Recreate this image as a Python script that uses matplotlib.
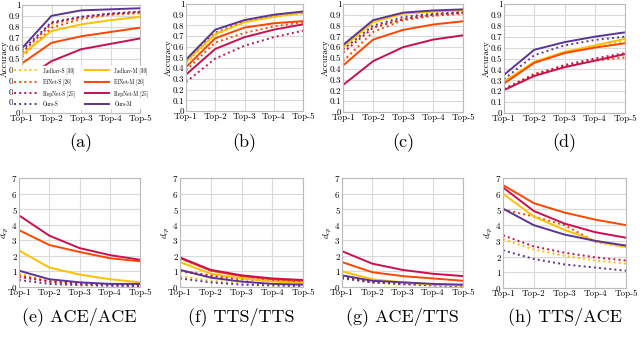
import matplotlib
matplotlib.use("Agg")
import matplotlib.pyplot as plt

plt.rcParams['font.family'] = 'serif'
plt.rcParams['font.serif'] = ['cmr10', 'DejaVu Serif']
plt.rcParams['mathtext.fontset'] = 'cm'
plt.rcParams['axes.formatter.use_mathtext'] = True
plt.rcParams['axes.unicode_minus'] = False

categories = ["Top-1", "Top-2", "Top-3", "Top-4", "Top-5"]
methods = ["Jadhav-S [30]", "EfNet-S [26]", "RepNet-S [25]", "Ours-S",
           "Jadhav-M [30]", "EfNet-M [26]", "RepNet-M [25]", "Ours-M"]
colors = {"Jadhav": "#FFC000", "EfNet": "#FF4500", "RepNet": "#C8104F", "Ours": "#5B3593"}

# accuracy panels
acc_a = {
    "Jadhav-S [30]": [0.55, 0.82, 0.88, 0.91, 0.92],
    "EfNet-S [26]": [0.52, 0.79, 0.87, 0.91, 0.93],
    "RepNet-S [25]": [0.56, 0.83, 0.89, 0.92, 0.935],
    "Ours-S": [0.58, 0.84, 0.89, 0.92, 0.94],
    "Jadhav-M [30]": [0.54, 0.76, 0.82, 0.86, 0.89],
    "EfNet-M [26]": [0.46, 0.65, 0.71, 0.75, 0.79],
    "RepNet-M [25]": [0.30, 0.48, 0.59, 0.64, 0.69],
    "Ours-M": [0.60, 0.90, 0.95, 0.96, 0.97],
}
acc_b = {
    "Jadhav-S [30]": [0.45, 0.71, 0.83, 0.88, 0.91],
    "EfNet-S [26]": [0.38, 0.64, 0.73, 0.79, 0.83],
    "RepNet-S [25]": [0.27, 0.49, 0.61, 0.69, 0.75],
    "Ours-S": [0.47, 0.73, 0.84, 0.89, 0.92],
    "Jadhav-M [30]": [0.46, 0.72, 0.83, 0.88, 0.92],
    "EfNet-M [26]": [0.41, 0.68, 0.78, 0.82, 0.84],
    "RepNet-M [25]": [0.34, 0.58, 0.69, 0.76, 0.81],
    "Ours-M": [0.48, 0.76, 0.85, 0.90, 0.93],
}
acc_c = {
    "Jadhav-S [30]": [0.57, 0.79, 0.86, 0.90, 0.92],
    "EfNet-S [26]": [0.47, 0.74, 0.85, 0.89, 0.91],
    "RepNet-S [25]": [0.55, 0.78, 0.86, 0.90, 0.92],
    "Ours-S": [0.58, 0.80, 0.88, 0.91, 0.93],
    "Jadhav-M [30]": [0.60, 0.83, 0.91, 0.93, 0.94],
    "EfNet-M [26]": [0.43, 0.67, 0.76, 0.81, 0.84],
    "RepNet-M [25]": [0.25, 0.47, 0.60, 0.67, 0.71],
    "Ours-M": [0.62, 0.85, 0.92, 0.94, 0.95],
}
acc_d = {
    "Jadhav-S [30]": [0.28, 0.46, 0.55, 0.61, 0.66],
    "EfNet-S [26]": [0.22, 0.36, 0.43, 0.48, 0.51],
    "RepNet-S [25]": [0.22, 0.35, 0.44, 0.50, 0.55],
    "Ours-S": [0.31, 0.53, 0.62, 0.67, 0.70],
    "Jadhav-M [30]": [0.29, 0.47, 0.56, 0.62, 0.68],
    "EfNet-M [26]": [0.27, 0.46, 0.55, 0.60, 0.64],
    "RepNet-M [25]": [0.21, 0.34, 0.42, 0.48, 0.54],
    "Ours-M": [0.35, 0.58, 0.65, 0.70, 0.74],
}
# d_cp panels
dcp_e = {
    "Jadhav-S [30]": [0.85, 0.40, 0.25, 0.15, 0.10],
    "EfNet-S [26]": [0.75, 0.35, 0.22, 0.15, 0.12],
    "RepNet-S [25]": [0.65, 0.35, 0.20, 0.15, 0.10],
    "Ours-S": [0.45, 0.20, 0.12, 0.08, 0.05],
    "Jadhav-M [30]": [2.35, 1.25, 0.80, 0.50, 0.30],
    "EfNet-M [26]": [3.65, 2.70, 2.25, 1.85, 1.65],
    "RepNet-M [25]": [4.60, 3.30, 2.50, 2.05, 1.75],
    "Ours-M": [1.05, 0.50, 0.30, 0.20, 0.20],
}
dcp_f = {
    "Jadhav-S [30]": [0.70, 0.40, 0.25, 0.15, 0.10],
    "EfNet-S [26]": [1.00, 0.75, 0.55, 0.40, 0.30],
    "RepNet-S [25]": [1.05, 0.70, 0.50, 0.40, 0.30],
    "Ours-S": [0.55, 0.30, 0.15, 0.10, 0.05],
    "Jadhav-M [30]": [1.60, 0.85, 0.55, 0.35, 0.25],
    "EfNet-M [26]": [1.85, 1.05, 0.70, 0.50, 0.40],
    "RepNet-M [25]": [1.90, 1.10, 0.75, 0.55, 0.45],
    "Ours-M": [1.10, 0.60, 0.35, 0.20, 0.15],
}
dcp_g = {
    "Jadhav-S [30]": [0.60, 0.30, 0.15, 0.10, 0.05],
    "EfNet-S [26]": [0.60, 0.30, 0.20, 0.15, 0.10],
    "RepNet-S [25]": [0.65, 0.35, 0.25, 0.15, 0.10],
    "Ours-S": [0.55, 0.30, 0.20, 0.10, 0.05],
    "Jadhav-M [30]": [1.00, 0.50, 0.30, 0.15, 0.10],
    "EfNet-M [26]": [1.60, 0.95, 0.70, 0.55, 0.40],
    "RepNet-M [25]": [2.30, 1.50, 1.10, 0.85, 0.70],
    "Ours-M": [0.75, 0.40, 0.30, 0.20, 0.15],
}
dcp_h = {
    "Jadhav-S [30]": [3.10, 2.45, 2.05, 1.75, 1.55],
    "EfNet-S [26]": [5.00, 4.55, 4.00, 2.95, 2.60],
    "RepNet-S [25]": [3.35, 2.65, 2.25, 1.95, 1.75],
    "Ours-S": [2.40, 1.85, 1.50, 1.30, 1.10],
    "Jadhav-M [30]": [6.00, 4.55, 3.70, 3.00, 2.60],
    "EfNet-M [26]": [6.55, 5.40, 4.80, 4.35, 4.00],
    "RepNet-M [25]": [6.40, 4.90, 4.10, 3.55, 3.20],
    "Ours-M": [5.05, 4.00, 3.40, 3.00, 2.70],
}
captions_top = ["(a)", "(b)", "(c)", "(d)"]
captions_bot = ["(e) ACE/ACE", "(f) TTS/TTS", "(g) ACE/TTS", "(h) TTS/ACE"]

W, H = 640, 349
fig = plt.figure(figsize=(W / 100, H / 100), dpi=100)

def ax_px(x0, y0, x1, y1):
    return fig.add_axes([x0 / W, 1 - y1 / H, (x1 - x0) / W, (y1 - y0) / H])

top_boxes = [(22, 5, 140, 113), (186, 4, 303, 111), (343, 4, 463, 112), (504, 4, 625, 113)]
bot_boxes = [(19, 178, 140, 287), (180, 178, 303, 287), (342, 178, 463, 287), (503, 178, 626, 288)]

def style(ax, ylim, yticks, ylabel, box, label_x):
    ax.set_xlim(0, 4)
    ax.set_ylim(*ylim)
    ax.set_xticks(range(5))
    ax.set_xticklabels(categories, fontsize=6.5)
    ax.set_yticks(yticks)
    ax.tick_params(axis='y', labelsize=6.5, length=0, pad=1)
    ax.tick_params(axis='x', length=0, pad=1)
    ax.grid(True, color='#d9d9d9', linewidth=0.8)
    ax.set_axisbelow(True)
    for s in ax.spines.values():
        s.set_color('#bbbbbb')
        s.set_linewidth(0.8)
    ax.set_ylabel(ylabel, fontsize=6.5)
    w = box[2] - box[0]
    ax.yaxis.set_label_coords((label_x - box[0]) / w, 0.5)

def draw(ax, data):
    for m in methods:
        fam = m.split('-')[0]
        ls = ':' if m.startswith(('Jadhav-S', 'EfNet-S', 'RepNet-S', 'Ours-S')) else '-'
        ax.plot(range(5), data[m], color=colors[fam], linestyle=ls,
                linewidth=1.4, label=m)

acc_sets = [acc_a, acc_b, acc_c, acc_d]
dcp_sets = [dcp_e, dcp_f, dcp_g, dcp_h]
acc_ticks = [round(0.1 * i, 1) for i in range(11)]
for i, (box, data) in enumerate(zip(top_boxes, acc_sets)):
    ax = ax_px(*box)
    draw(ax, data)
    style(ax, (0, 1), acc_ticks, 'Accuracy', box, box[0] - 13)
    ax.set_yticklabels(['0', '0.1', '0.2', '0.3', '0.4', '0.5', '0.6', '0.7', '0.8', '0.9', '1'])
    cx = (box[0] + box[2]) / 2 / W
    fig.text(cx, 1 - 143 / H, captions_top[i], ha='center', va='center', fontsize=13)
    if i == 0:
        ax.legend(ncol=2, fontsize=3.8, loc='lower center', bbox_to_anchor=(0.5, 0.02),
                  frameon=True, fancybox=False, edgecolor='white', framealpha=1,
                  handlelength=4.5, columnspacing=2.0, labelspacing=0.9,
                  borderpad=0.2, handletextpad=1.0)

for i, (box, data) in enumerate(zip(bot_boxes, dcp_sets)):
    ax = ax_px(*box)
    draw(ax, data)
    style(ax, (0, 7), list(range(8)), r'$d_{cp}$', box, box[0] - 8)
    cx = (box[0] + box[2]) / 2 / W
    fig.text(cx, 1 - 317 / H, captions_bot[i], ha='center', va='center', fontsize=13)

fig.savefig('out.png', dpi=100)
